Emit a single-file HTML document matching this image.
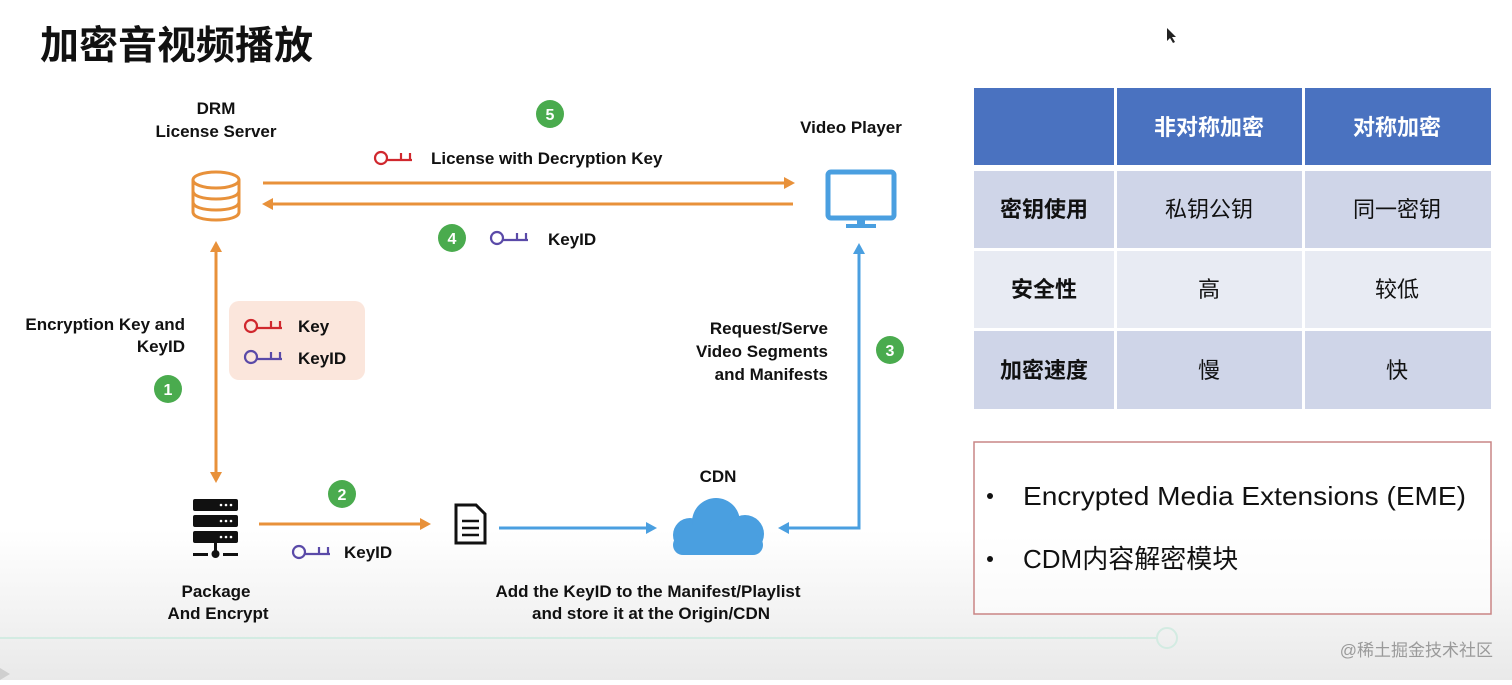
<!DOCTYPE html>
<html><head><meta charset="utf-8"><style>
html,body{margin:0;padding:0;}
body{width:1512px;height:680px;overflow:hidden;background:#fff;font-family:"Liberation Sans","Noto Sans CJK SC",sans-serif;}
</style></head><body>
<svg width="1512" height="680" viewBox="0 0 1512 680" xmlns="http://www.w3.org/2000/svg" font-family="Liberation Sans, Noto Sans CJK SC, sans-serif">
<defs>
<linearGradient id="bg" x1="0" y1="0" x2="0" y2="1">
<stop offset="0" stop-color="#ffffff"/><stop offset="0.78" stop-color="#ffffff"/><stop offset="1" stop-color="#e9e9e9"/>
</linearGradient>
<g id="key"><circle cx="7" cy="0" r="6" fill="none" stroke-width="2.2"/><path d="M13 2H38M27 2V-5M36 2V-5" fill="none" stroke-width="2.2"/></g>
</defs>
<rect width="1512" height="680" fill="url(#bg)"/>
<text x="40" y="59" font-size="39" font-weight="bold" fill="#111">加密音视频播放</text>
<path d="M1167 28l0 13 3-3 3 5 2-1-3-5 4 0z" fill="#222"/>

<g font-size="17" font-weight="bold" fill="#111" text-anchor="middle">
<text x="216" y="114">DRM</text><text x="216" y="137">License Server</text>
<text x="851" y="133">Video Player</text>
<text x="718" y="482">CDN</text>
<text x="216" y="597">Package</text><text x="218" y="619">And Encrypt</text>
<text x="648" y="597">Add the KeyID to the Manifest/Playlist</text>
<text x="651" y="619">and store it at the Origin/CDN</text>
</g>
<g font-size="17" font-weight="bold" fill="#111" text-anchor="end">
<text x="185" y="330">Encryption Key and</text><text x="185" y="352">KeyID</text>
<text x="828" y="334">Request/Serve</text><text x="828" y="357">Video Segments</text><text x="828" y="380">and Manifests</text>
</g>

<g fill="none" stroke="#e8913a" stroke-width="3">
<ellipse cx="216" cy="180" rx="23" ry="8"/>
<path d="M193 180v32c0 5 10 8 23 8s23-3 23-8v-32"/>
<path d="M193 191c0 5 10 8 23 8s23-3 23-8M193 202c0 5 10 8 23 8s23-3 23-8"/>
</g>
<g stroke="#e8913a" stroke-width="3" fill="#e8913a">
<line x1="263" y1="183" x2="786" y2="183"/><path d="M795 183l-11-6v12z" stroke="none"/>
<line x1="270" y1="204" x2="793" y2="204"/><path d="M262 204l11-6v12z" stroke="none"/>
<line x1="216" y1="250" x2="216" y2="474"/><path d="M216 241l-6 11h12z" stroke="none"/><path d="M216 483l-6-11h12z" stroke="none"/>
<line x1="259" y1="524" x2="422" y2="524"/><path d="M431 524l-11-6v12z" stroke="none"/>
</g>
<g stroke="#4a9fe0" stroke-width="3" fill="#4a9fe0">
<line x1="499" y1="528" x2="648" y2="528"/><path d="M657 528l-11-6v12z" stroke="none"/>
<polyline points="787,528 859,528 859,252" fill="none"/><path d="M778 528l11-6v12z" stroke="none"/><path d="M859 243l-6 11h12z" stroke="none"/>
</g>
<rect x="828" y="172" width="66" height="46" rx="3" fill="none" stroke="#4a9fe0" stroke-width="5"/>
<rect x="857" y="218" width="8" height="6" fill="#4a9fe0"/><rect x="846" y="224" width="30" height="4" fill="#4a9fe0"/>
<!-- cloud -->
<g fill="#4a9fe0">
<circle cx="690" cy="535" r="17"/><circle cx="716" cy="522" r="24"/><circle cx="745" cy="534" r="19"/>
<rect x="690" y="530" width="56" height="25"/>
<rect x="673" y="535" width="90" height="20" rx="10"/>
</g>
<path d="M456 505h20l9 9v29h-29z" fill="none" stroke="#111" stroke-width="3"/>
<path d="M462 521h17M462 528h17M462 535h17" stroke="#111" stroke-width="2.5"/>
<g fill="#111">
<rect x="193" y="499" width="45" height="12" rx="2"/><rect x="193" y="515" width="45" height="12" rx="2"/><rect x="193" y="531" width="45" height="12" rx="2"/>
<rect x="214" y="543" width="3" height="8"/><circle cx="215.5" cy="554" r="4"/><rect x="193" y="553" width="15" height="3"/><rect x="223" y="553" width="15" height="3"/>
</g>
<g fill="#fff"><circle cx="221" cy="505" r="1.3"/><circle cx="226" cy="505" r="1.3"/><circle cx="231" cy="505" r="1.3"/><circle cx="221" cy="521" r="1.3"/><circle cx="226" cy="521" r="1.3"/><circle cx="231" cy="521" r="1.3"/><circle cx="221" cy="537" r="1.3"/><circle cx="226" cy="537" r="1.3"/><circle cx="231" cy="537" r="1.3"/></g>

<rect x="229" y="301" width="136" height="79" rx="10" fill="#fbe6dc"/>
<use href="#key" x="244" y="326" stroke="#d0282e"/>
<use href="#key" x="244" y="357" stroke="#5a4aa8"/>
<use href="#key" x="374" y="158" stroke="#d0282e"/>
<use href="#key" x="490" y="238" stroke="#5a4aa8"/>
<use href="#key" x="292" y="552" stroke="#5a4aa8"/>
<g font-size="17" font-weight="bold" fill="#111">
<text x="298" y="332">Key</text><text x="298" y="364">KeyID</text>
<text x="431" y="164">License with Decryption Key</text>
<text x="548" y="245">KeyID</text>
<text x="344" y="558">KeyID</text>
</g>
<g fill="#4aab4e"><circle cx="550" cy="114" r="14"/><circle cx="452" cy="238" r="14"/><circle cx="168" cy="389" r="14"/><circle cx="342" cy="494" r="14"/><circle cx="890" cy="350" r="14"/></g>
<g fill="#fff" font-size="16" font-weight="bold" text-anchor="middle">
<text x="550" y="120">5</text><text x="452" y="244">4</text><text x="168" y="395">1</text><text x="342" y="500">2</text><text x="890" y="356">3</text>
</g>

<rect x="974" y="88" width="140" height="77" fill="#4a72c0"/><rect x="1117" y="88" width="185" height="77" fill="#4a72c0"/><rect x="1305" y="88" width="186" height="77" fill="#4a72c0"/>
<rect x="974" y="171" width="140" height="77" fill="#cfd5e8"/><rect x="1117" y="171" width="185" height="77" fill="#cfd5e8"/><rect x="1305" y="171" width="186" height="77" fill="#cfd5e8"/>
<rect x="974" y="251" width="140" height="77" fill="#e8ebf3"/><rect x="1117" y="251" width="185" height="77" fill="#e8ebf3"/><rect x="1305" y="251" width="186" height="77" fill="#e8ebf3"/>
<rect x="974" y="331" width="140" height="78" fill="#cfd5e8"/><rect x="1117" y="331" width="185" height="78" fill="#cfd5e8"/><rect x="1305" y="331" width="186" height="78" fill="#cfd5e8"/>
<g font-size="22" text-anchor="middle" fill="#111">
<text x="1209" y="135" fill="#fff" font-weight="bold">非对称加密</text><text x="1397" y="135" fill="#fff" font-weight="bold">对称加密</text>
<text x="1044" y="217" font-weight="bold">密钥使用</text><text x="1209" y="217">私钥公钥</text><text x="1397" y="217">同一密钥</text>
<text x="1044" y="297" font-weight="bold">安全性</text><text x="1209" y="297">高</text><text x="1397" y="297">较低</text>
<text x="1044" y="378" font-weight="bold">加密速度</text><text x="1209" y="378">慢</text><text x="1397" y="378">快</text>
</g>
<rect x="974" y="442" width="517" height="172" fill="#fff" fill-opacity="0.6" stroke="#c98585" stroke-width="1.5"/>
<circle cx="990" cy="496" r="3" fill="#111"/><circle cx="990" cy="559" r="3" fill="#111"/>
<text x="1023" y="505" font-size="26" fill="#111" textLength="443" lengthAdjust="spacingAndGlyphs">Encrypted Media Extensions (EME)</text>
<text x="1023" y="568" font-size="26" fill="#111">CDM内容解密模块</text>

<line x1="0" y1="638" x2="1157" y2="638" stroke="#d3ebe2" stroke-width="2"/>
<circle cx="1167" cy="638" r="10" fill="none" stroke="#d3ebe2" stroke-width="2"/>
<text x="1493" y="656" font-size="17" fill="#9a9a9a" text-anchor="end">@稀土掘金技术社区</text>
<path d="M0 668l10 6-10 6z" fill="#cfcfcf"/>
</svg>
</body></html>
